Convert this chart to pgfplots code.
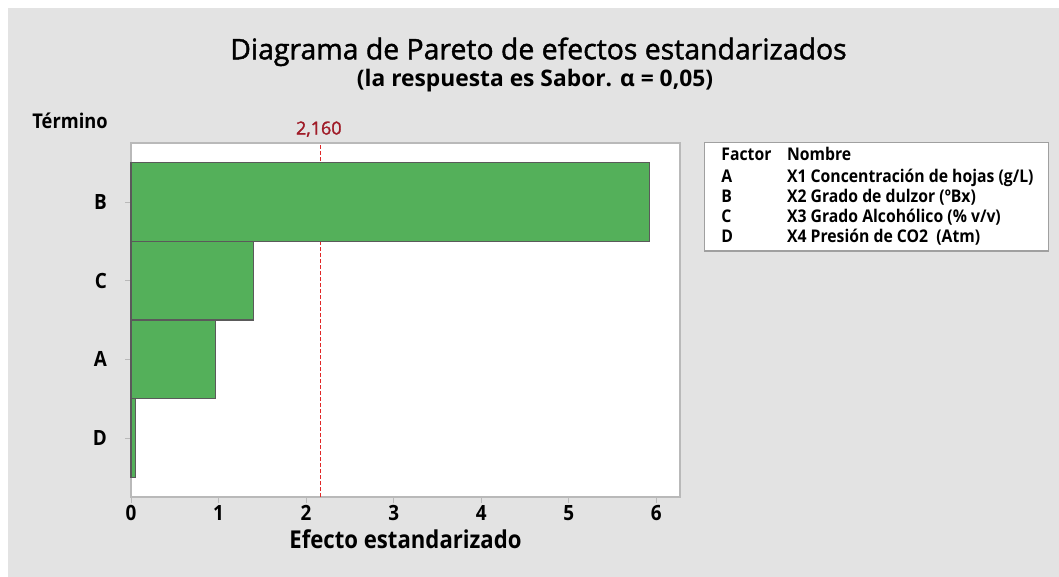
\documentclass[border=0pt]{standalone}
\usepackage{pgfplots}
\pgfplotsset{compat=1.18}
\usepackage{fontspec}
\setmainfont{Open Sans}
\newfontfamily\titlef{Open Sans}[FakeBold=1.5]
\newfontfamily\semib{Open Sans}[FakeStretch=0.9]
\definecolor{bg}{RGB}{227,227,227}
\definecolor{bargreen}{RGB}{84,176,90}
\definecolor{baredge}{RGB}{90,90,90}
\definecolor{axgray}{RGB}{185,185,185}
\definecolor{boxgray}{RGB}{160,160,160}
\definecolor{refred}{RGB}{225,40,40}
\definecolor{labred}{RGB}{160,28,40}
\begin{document}
\begin{tikzpicture}
\begin{scope}[x=0.5pt,y=-0.5pt]
\useasboundingbox (0,0) rectangle (1059,577);
\fill[white] (0,0) rectangle (1059,577);
\fill[bg] (8,8) rectangle (1059,577);
\node[anchor=base, inner sep=0pt, font=\titlef\fontsize{14.2}{17}\selectfont] at (538.5,59.3) {Diagrama de Pareto de efectos estandarizados};
\node[anchor=base, inner sep=0pt, font=\bfseries\fontsize{11.4}{13}\selectfont] at (535,87) {(la respuesta es Sabor. α = 0,05)};
\node[anchor=base west, inner sep=0pt, font=\semib\bfseries\fontsize{10.15}{12}\selectfont] at (32,129) {Término};
\draw[boxgray, line width=0.6pt, fill=white] (704.3,142.3) rectangle (1048.3,251);
\begin{scope}[every node/.style={anchor=base west, inner sep=0pt, font=\semib\bfseries\fontsize{8.75}{10}\selectfont}]
\node at (721,161) {Factor};
\node at (786.7,161) {Nombre};
\node at (721,182.3) {A};
\node at (786.7,182.3) {X1 Concentración de hojas (g/L)};
\node at (721,202.3) {B};
\node at (786.7,202.3) {X2 Grado de dulzor (ºBx)};
\node at (721,222.7) {C};
\node at (786.7,222.7) {X3 Grado Alcohólico (\% v/v)};
\node at (721,242.7) {D};
\node at (786.7,242.7) {X4 Presión de CO2~ (Atm)};
\end{scope}
\end{scope}
\begin{axis}[
  at={(65.5pt,-248.5pt)}, anchor=south west,
  scale only axis, width=274.5pt, height=177pt,
  xmin=0, xmax=6.27, ymin=0.25, ymax=4.75,
  xtick={0,1,2,3,4,5,6}, ytick={1,2,3,4}, yticklabels={D,A,C,B},
  tick align=outside, tick pos=left, major tick length=3pt,
  every tick/.style={axgray, line width=0.5pt},
  axis line style={axgray, line width=0.7pt},
  axis background/.style={fill=white},
  ticklabel style={font=\semib\bfseries\fontsize{10.5}{12}\selectfont},
  yticklabel style={xshift=-5.5pt},
  xticklabel style={yshift=2.5pt},
  /pgf/number format/assume math mode=true,
  xlabel={Efecto estandarizado},
  xlabel style={font=\semib\bfseries\fontsize{12.3}{15}\selectfont, at={(axis description cs:0.5,0)}, anchor=base, yshift=-25.5pt},
  clip=false,
]
\addplot[refred, line width=0.5pt, dash pattern=on 2pt off 1pt] coordinates {(2.16,0.25) (2.16,4.75)};
\addplot[xbar, bar width=1, fill=bargreen, draw=baredge, line width=0.6pt] coordinates {(5.92,4) (1.40,3) (0.967,2) (0.054,1)};
\node[anchor=base, inner sep=0pt, text=labred, font=\titlef\fontsize{9}{11}\selectfont] at (axis cs:2.145,4.858) {2,160};
\end{axis}
\end{tikzpicture}
\end{document}
